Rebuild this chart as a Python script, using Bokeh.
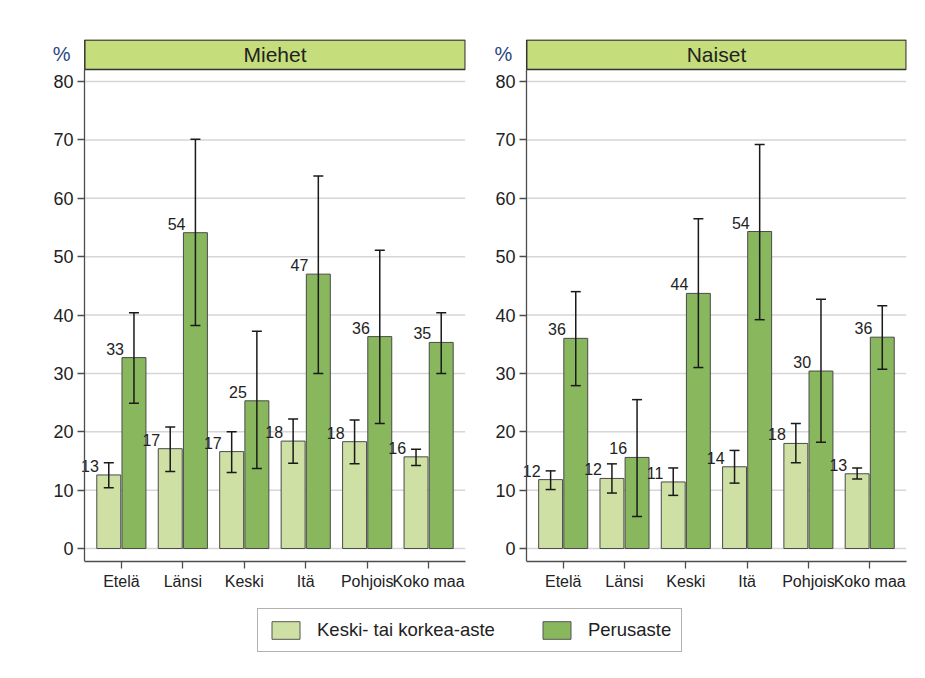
from bokeh.plotting import figure
from bokeh.models import (Range1d, FixedTicker, ColumnDataSource, Whisker, TeeHead,
                          Legend, LegendItem)
from bokeh.layouts import column, row
from bokeh.embed import file_html
from bokeh.resources import INLINE
from bokeh.core.properties import value

# ---------------- data ----------------
regions = ["Etelä", "Länsi", "Keski", "Itä", "Pohjois", "Koko maa"]
groups = ["Keski- tai korkea-aste", "Perusaste"]
panels = ["Miehet", "Naiset"]

men_high = [12.6, 17.1, 16.6, 18.4, 18.3, 15.7]
men_high_lo = [10.4, 13.2, 13.0, 14.6, 14.5, 14.2]
men_high_hi = [14.7, 20.8, 20.0, 22.2, 22.0, 17.0]
men_basic = [32.7, 54.1, 25.3, 47.0, 36.3, 35.3]
men_basic_lo = [24.9, 38.2, 13.7, 30.0, 21.4, 30.0]
men_basic_hi = [40.4, 70.1, 37.2, 63.8, 51.1, 40.4]

women_high = [11.8, 12.0, 11.4, 14.0, 18.0, 12.8]
women_high_lo = [10.1, 9.5, 9.1, 11.2, 14.7, 11.9]
women_high_hi = [13.3, 14.5, 13.8, 16.8, 21.4, 13.8]
women_basic = [36.0, 15.6, 43.7, 54.3, 30.4, 36.2]
women_basic_lo = [27.9, 5.5, 31.0, 39.2, 18.2, 30.7]
women_basic_hi = [44.0, 25.5, 56.5, 69.2, 42.7, 41.6]

y_ticks = [0, 10, 20, 30, 40, 50, 60, 70, 80]
unit_label = "%"

# ---------------- style ----------------
FONT = value("Liberation Sans")
LIGHT = "#cfe0a4"
DARK = "#89b75d"
STRIP = "#c5dd7a"
TXT = "#222222"
AXC = "#4d4d4d"
BAR_W = 0.39
OFF = 0.205
X_LO, X_HI = 0.4, 6.6          # visible category span
PXU = 381 / (X_HI - X_LO)      # pixels per x unit
LEFT_PAD = 40                  # px of frame left of the y axis (tick labels, unit)
Y0, Y1 = -2.227, 87.195
STRIP_BOTTOM = 82.056


def make_panel(title, high, hlo, hhi, basic, blo, bhi, width, bl, br):
    x_start = X_LO - LEFT_PAD / PXU
    p = figure(width=width, height=599, x_range=Range1d(x_start, X_HI),
               y_range=Range1d(Y0, Y1), output_backend="svg",
               toolbar_location=None, min_border_left=bl, min_border_right=br,
               min_border_top=39, min_border_bottom=38)
    p.outline_line_color = None
    p.background_fill_color = "white"
    p.border_fill_color = "white"
    p.xgrid.visible = False
    p.ygrid.visible = False

    # horizontal grid lines limited to the category span
    p.segment(x0=X_LO, x1=X_HI, y0=y_ticks, y1=y_ticks,
              line_color="#d6d6d6", line_width=1.5)

    xs = list(range(1, len(regions) + 1))
    src = ColumnDataSource(dict(
        xl=[x - OFF for x in xs], xd=[x + OFF for x in xs],
        xl_edge=[x - OFF - BAR_W / 2 for x in xs],
        xd_edge=[x + OFF - BAR_W / 2 for x in xs],
        high=high, hlo=hlo, hhi=hhi, basic=basic, blo=blo, bhi=bhi,
        lab_h=[str(int(round(v))) for v in high],
        lab_b=[str(int(round(v))) for v in basic],
    ))

    p.vbar(x="xl", top="high", width=BAR_W, source=src, fill_color=LIGHT,
           line_color="#4a4a4a", line_width=1)
    p.vbar(x="xd", top="basic", width=BAR_W, source=src, fill_color=DARK,
           line_color="#4a4a4a", line_width=1)

    for base, up, lo in (("xl", "hhi", "hlo"), ("xd", "bhi", "blo")):
        w = Whisker(source=src, base=base, upper=up, lower=lo, level="annotation",
                    line_color="#1a1a1a", line_width=1.5,
                    upper_head=TeeHead(size=10, line_color="#1a1a1a", line_width=1.5),
                    lower_head=TeeHead(size=10, line_color="#1a1a1a", line_width=1.5))
        p.add_layout(w)

    for xe, yv, lab in (("xl_edge", "high", "lab_h"), ("xd_edge", "basic", "lab_b")):
        p.text(x=xe, y=yv, text=lab, source=src, text_align="right",
               text_baseline="alphabetic", x_offset=2, y_offset=-9,
               text_font=FONT, text_font_size="16px", text_color=TXT)

    # facet strip
    mid_y = (STRIP_BOTTOM + Y1) / 2
    p.quad(left=X_LO + 0.005, right=X_HI - 0.005,
           bottom=STRIP_BOTTOM, top=Y1 - 0.08, fill_color=STRIP,
           line_color="#333333", line_width=1.5)
    p.text(x=[(X_LO + X_HI) / 2], y=[mid_y],
           text=[title], text_align="center", text_baseline="middle",
           text_font=FONT, text_font_size="21px", text_color=TXT)
    # unit label beside the strip
    p.text(x=[X_LO], y=[mid_y], text=[unit_label], x_offset=-14,
           text_align="right", text_baseline="middle",
           text_font=FONT, text_font_size="20px", text_color="#2b4780")

    p.yaxis.ticker = FixedTicker(ticks=y_ticks)
    p.yaxis.fixed_location = X_LO
    p.yaxis.bounds = (Y0, STRIP_BOTTOM)
    p.xaxis.ticker = FixedTicker(ticks=xs)
    p.xaxis.bounds = (X_LO, X_HI)
    p.xaxis.major_label_overrides = {x: r for x, r in zip(xs, regions)}
    for ax in (p.xaxis[0], p.yaxis[0]):
        ax.axis_line_color = AXC
        ax.axis_line_width = 1.3
        ax.major_tick_line_color = AXC
        ax.major_tick_line_width = 1.3
        ax.major_tick_out = 7
        ax.major_tick_in = 0
        ax.minor_tick_line_color = None
        ax.major_label_text_font = "Liberation Sans"
        ax.major_label_text_color = TXT
        ax.major_label_standoff = 4
    p.yaxis.major_label_text_font_size = "18px"
    p.xaxis.major_label_text_font_size = "16px"
    return p


p1 = make_panel(panels[0], men_high, men_high_lo, men_high_hi,
                men_basic, men_basic_lo, men_basic_hi, 477, 44, 12)
p2 = make_panel(panels[1], women_high, women_high_lo, women_high_hi,
                women_basic, women_basic_lo, women_basic_hi, 440, 9, 11)

lf = figure(width=917, height=68, x_range=Range1d(0, 1), y_range=Range1d(0, 1),
            x_axis_type=None, y_axis_type=None, output_backend="svg",
            toolbar_location=None, min_border=0)
lf.outline_line_color = None
lf.grid.visible = False
# legend proxies: one point each, placed outside the visible range
proxy = ColumnDataSource(dict(x=[-10], top=[0]))
r1 = lf.vbar(x="x", top="top", width=0.1, source=proxy, fill_color=LIGHT,
             line_color="#555555")
r2 = lf.vbar(x="x", top="top", width=0.1, source=proxy, fill_color=DARK,
             line_color="#555555")
legend = Legend(items=[LegendItem(label=groups[0], renderers=[r1]),
                       LegendItem(label=groups[1], renderers=[r2])],
                orientation="horizontal", location=(257, 15),
                glyph_width=35, glyph_height=22, label_standoff=14, spacing=44,
                padding=10, margin=0, border_line_color="#666666",
                border_line_width=1.3, label_text_font="Liberation Sans",
                label_text_font_size="18.5px", label_text_color=TXT)
lf.add_layout(legend, "center")

layout = column(row(p1, p2), lf)
open("out.html", "w").write(file_html(layout, INLINE))
